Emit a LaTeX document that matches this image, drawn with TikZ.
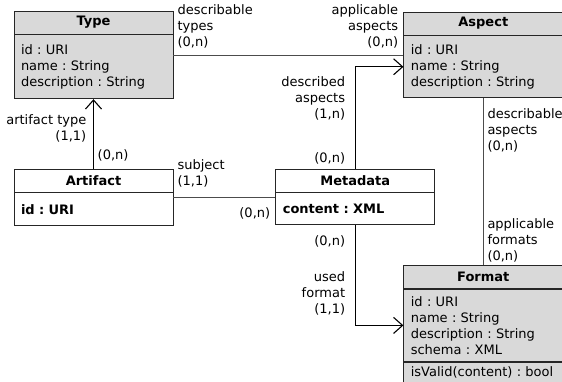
\documentclass[tikz,border=0pt]{standalone}
\usepackage{fontspec}
\setmainfont{DejaVu Sans}
\usetikzlibrary{positioning,arrows.meta}
\frenchspacing

\definecolor{classgray}{RGB}{217,217,217}
\newcommand{\umlfont}{\fontsize{13}{16}\selectfont}

\tikzstyle{head} = [rectangle, draw=black!85, line width=0.8pt, fill=classgray, minimum width=159pt, minimum height=23pt, inner sep=0pt, font=\umlfont\bfseries]
\tikzstyle{attrs} = [rectangle, draw=black!85, line width=0.8pt, fill=classgray, text width=145pt, inner xsep=7pt, inner ysep=0pt, align=left, font=\umlfont]
\tikzstyle{plainhead} = [head, fill=white]
\tikzstyle{plainattrs} = [attrs, fill=white, font=\umlfont\bfseries]
\tikzstyle{role} = [inner sep=0pt, font=\umlfont]
\tikzstyle{link} = [line width=0.8pt, black!70]
\tikzstyle{arrow} = [line width=1.1pt, -{Straight Barb[length=9pt,width=16pt]}]

\begin{document}
\begin{tikzpicture}
    [x=1pt, y=1pt]
  \useasboundingbox (0,0) rectangle (562,381);
  % classes
  \node[head] (typehead) at (93.5,358.5) {Type};
  \node[attrs, below=0pt of typehead, minimum height=64pt] (typebody) {id : URI\\name : String\\description : String};
  \node[head, right=230pt of typehead, yshift=-1pt] (aspecthead) {Aspect};
  \node[attrs, below=0pt of aspecthead, minimum height=62pt] (aspectbody) {id : URI\\name : String\\description : String};
  \node[plainhead, below of=typehead, node distance=158pt] (artifacthead) {Artifact};
  \node[plainattrs, below=0pt of artifacthead, minimum height=33pt] (artifactbody) {id : URI};
  \node[plainhead, right=102pt of artifacthead] (metadatahead) {Metadata};
  \node[plainattrs, below=0pt of metadatahead, minimum height=32pt] (metadatabody) {content : XML};
  \node[head, below=167pt of aspectbody] (formathead) {Format};
  \node[attrs, below=0pt of formathead, minimum height=72pt] (formatbody) {id : URI\\name : String\\description : String\\schema : XML};
  \node[attrs, below=0pt of formatbody, minimum height=21pt] (formatops) {isValid(content) : bool};
  % associations
  \coordinate (typeaspect) at ([yshift=11pt]typebody.east);
  \coordinate (aspecttype) at (typeaspect -| aspectbody.west);
  \coordinate (artifactmeta) at ([yshift=11.5pt]artifactbody.east);
  \coordinate (metaartifact) at (artifactmeta -| metadatabody.west);
  \coordinate (aspectcorner) at (metadatahead.north |- aspectbody.west);
  \coordinate (formatcorner) at (metadatabody.south |- formatbody.west);
  \draw [link] (typeaspect) -- (aspecttype);
  \draw [arrow] (artifacthead) -- (typebody);
  \draw [link] (artifactmeta) -- (metaartifact);
  \draw [arrow] (metadatahead.north) |- (aspectbody.west);
  \draw [link] (aspectbody) -- (formathead);
  \draw [arrow] (metadatabody.south) |- (formatbody.west);
  % roles and cardinalities
  \node[role, anchor=south west, align=left] (typesrole) at ([xshift=4pt,yshift=7pt]typeaspect) {describable\\types\\(0,n)};
  \node[role, anchor=south east, align=right] (aspectsrole) at ([xshift=-5pt,yshift=7pt]aspecttype) {applicable\\aspects\\(0,n)};
  \node[role, anchor=north east, align=right] (artifacttyperole) at ([xshift=-7pt,yshift=-15pt]typebody.south) {artifact type\\(1,1)};
  \node[role, anchor=south west] (typecard) at ([xshift=4pt,yshift=7pt]artifacthead.north) {(0,n)};
  \node[role, anchor=south west, align=left] (subjectrole) at ([xshift=4pt,yshift=10pt]artifactmeta) {subject\\(1,1)};
  \node[role, anchor=north east] (subjectcard) at ([xshift=-5pt,yshift=-10pt]metaartifact) {(0,n)};
  \node[role, anchor=north east, align=right] (describedrole) at ([xshift=-10pt,yshift=-10pt]aspectcorner) {described\\aspects\\(1,n)};
  \node[role, anchor=south east] (describedcard) at ([xshift=-10pt,yshift=4pt]metadatahead.north) {(0,n)};
  \node[role, anchor=north west, align=left] (describablerole) at ([xshift=4pt,yshift=-10pt]aspectbody.south) {describable\\aspects\\(0,n)};
  \node[role, anchor=south west, align=left] (formatsrole) at ([xshift=4pt,yshift=3pt]formathead.north) {applicable\\formats\\(0,n)};
  \node[role, anchor=north east] (usedcard) at ([xshift=-10pt,yshift=-10pt]metadatabody.south) {(0,n)};
  \node[role, anchor=south east, align=right] (usedrole) at ([xshift=-10pt,yshift=10pt]formatcorner) {used\\format\\(1,1)};
\end{tikzpicture}
\end{document}
